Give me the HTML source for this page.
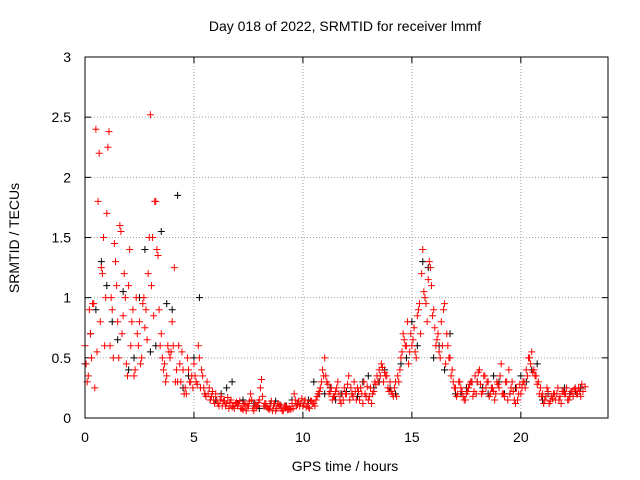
<!DOCTYPE html>
<html><head><meta charset="utf-8"><style>
body{margin:0;background:#fff}
svg{display:block;font-family:"Liberation Sans",sans-serif}
</style></head><body>
<svg id="chart" width="640" height="480">
<text x="345" y="31" font-size="14" text-anchor="middle">Day 018 of 2022, SRMTID for receiver lmmf</text>
<text x="345" y="471" font-size="14" text-anchor="middle">GPS time / hours</text>
<text x="19" y="238" font-size="14" text-anchor="middle" transform="rotate(-90 19 238)">SRMTID / TECUs</text>
<g id="grid"></g><g id="ticks"></g><g id="marks"></g>
<rect x="85" y="57" width="523" height="361" fill="none" stroke="#000"/>
</svg>
<script>
const xTicks=[0,5,10,15,20];
const yTicks=[0,0.5,1,1.5,2,2.5,3];
const yTickLabels=["0","0.5","1","1.5","2","2.5","3"];
const red1Values=[0.6,0.3,0.9,0.5,0.95,2.4,1.8,0.8,1.2,0.6,1.7,2.38,1.0,0.5,1.3,0.8,1.6,0.7,1.2,0.45,1.1,0.6,0.9,0.4,0.7,0.8,0.5,1.0,0.9,1.2,2.52,1.5,1.8,1.4,0.9,0.7,0.4,0.3,0.6,0.5,0.8,1.25,0.4,0.6,0.3,0.4,0.25,0.5,0.3,0.35,0.45,0.3,0.6,0.25,0.35,0.2,0.3,0.25,0.18,0.15,0.2,0.12,0.15,0.1,0.14,0.12,0.08,0.15,0.1,0.12,0.1,0.14,0.08,0.12,0.06,0.1,0.2,0.08,0.12,0.1,0.15,0.32,0.1,0.12,0.08,0.1,0.06,0.12,0.08,0.1,0.08,0.06,0.1,0.07,0.08,0.12,0.2,0.1,0.14,0.12,0.1,0.15,0.12,0.08,0.14,0.12,0.15,0.2,0.25,0.4,0.5,0.3,0.2,0.25,0.18,0.22,0.3,0.15,0.2,0.25,0.2,0.35,0.25,0.18,0.22,0.25,0.15,0.2,0.3,0.18,0.15,0.25,0.2,0.3,0.35,0.4,0.45,0.3,0.35,0.25,0.3,0.2,0.25,0.18,0.3,0.5,0.7,0.6,0.8,0.55,0.6,0.75,0.5,0.9,0.7,1.4,1.0,0.8,1.3,1.1,0.9,0.6,0.7,0.5,0.6,0.95,0.7,0.5,0.35,0.3,0.25,0.2,0.3,0.22,0.15,0.2,0.25,0.3,0.18,0.35,0.3,0.4,0.2,0.35,0.25,0.3,0.2,0.25,0.15,0.3,0.25,0.45,0.2,0.3,0.15,0.2,0.3,0.15,0.25,0.2,0.2,0.3,0.25,0.35,0.5,0.55,0.4,0.35,0.3,0.25,0.2,0.15,0.25,0.12,0.18,0.2,0.15,0.25,0.18,0.22,0.2,0.25,0.15,0.22,0.18,0.25,0.2,0.22,0.28];
const red2Values=[0.45,0.7,0.25,2.2,1.5,2.25,0.9,1.1,1.55,1.0,1.4,0.35,0.6,0.95,0.65,1.1,1.8,0.6,0.45,0.55,0.6,0.3,0.55,0.2,0.3,0.35,0.5,0.25,0.2,0.22,0.15,0.18,0.1,0.13,0.08,0.12,0.07,0.1,0.15,0.09,0.25,0.12,0.07,0.1,0.12,0.06,0.09,0.07,0.15,0.1,0.12,0.09,0.12,0.18,0.3,0.35,0.22,0.18,0.2,0.15,0.28,0.2,0.15,0.25,0.2,0.18,0.22,0.3,0.42,0.35,0.22,0.3,0.4,0.65,0.45,0.65,0.85,1.2,0.95,1.25,0.75,0.55,0.9,0.6,0.4,0.18,0.25,0.15,0.28,0.22,0.38,0.22,0.3,0.25,0.2,0.35,0.18,0.4,0.22,0.15,0.25,0.4,0.45,0.35,0.2,0.12,0.22,0.16,0.2,0.12,0.2,0.18,0.24,0.25,0.22];
const red3Values=[0.35,0.95,0.55,1.25,1.0,0.6,1.45,0.5,0.85,0.35,0.8,1.0,0.45,0.75,1.5,0.85,1.35,0.5,0.35,0.55,0.3,0.45,0.2,0.4,0.25,0.28,0.4,0.18,0.15,0.12,0.1,0.14,0.17,0.09,0.13,0.08,0.11,0.14,0.06,0.13,0.18,0.09,0.14,0.06,0.11,0.1,0.07,0.08,0.11,0.16,0.09,0.14,0.1,0.22,0.35,0.28,0.15,0.25,0.12,0.2,0.15,0.3,0.22,0.12,0.26,0.12,0.28,0.35,0.38,0.22,0.18,0.35,0.55,0.6,0.7,0.55,0.95,1.05,1.15,0.85,0.65,0.8,0.45,0.5,0.25,0.3,0.18,0.22,0.3,0.2,0.28,0.35,0.18,0.22,0.28,0.2,0.3,0.25,0.12,0.28,0.3,0.5,0.38,0.28,0.18,0.18,0.14,0.2,0.15,0.22,0.15,0.22,0.2,0.18,0.26];
const blackValues=[0.7,1.3,0.8,1.05,0.5,1.4,0.6,0.95,1.85,0.35,1.0,0.15,0.2,0.3,0.15,0.12,0.1,0.14,0.1,0.12,0.15,0.2,0.25,0.2,0.2,0.3,0.25,0.4,0.2,0.5,0.6,1.25,0.6,0.7,0.2,0.3,0.25,0.35,0.2,0.25,0.3,0.45,0.2,0.15,0.2,0.25];
const black2Values=[0.45,0.9,1.1,0.65,0.4,1.0,0.55,1.55,0.9,0.25,0.5,0.2,0.15,0.25,0.12,0.1,0.08,0.12,0.1,0.15,0.1,0.3,0.2,0.15,0.22,0.18,0.35,0.3,0.25,0.45,0.8,1.3,0.5,0.4,0.2,0.25,0.3,0.2,0.3,0.2,0.35,0.4,0.15,0.2,0.25,0.22];
const NS="http://www.w3.org/2000/svg";
const X=t=>85+t*(523/24), Y=v=>418-v*(361/3);
const grid=document.getElementById('grid'),ticks=document.getElementById('ticks'),marks=document.getElementById('marks');
function mk(tag,attrs,parent){const e=document.createElementNS(NS,tag);for(const k in attrs)e.setAttribute(k,attrs[k]);parent.appendChild(e);return e;}
xTicks.forEach(t=>{
 if(t>0){const g=mk('line',{x1:X(t),x2:X(t),y1:57,y2:418,stroke:'#a0a0a0','stroke-dasharray':'1,2'},grid);
 
 }
 mk('line',{x1:X(t),x2:X(t),y1:418,y2:412,stroke:'#000'},ticks);
 mk('line',{x1:X(t),x2:X(t),y1:57,y2:63,stroke:'#000'},ticks);
 const l=mk('text',{x:X(t),y:442,'font-size':14,'text-anchor':'middle'},ticks);l.textContent=t;
 
 
});
yTicks.forEach((v,i)=>{
 if(v>0&&v<3){const g=mk('line',{x1:85,x2:608,y1:Y(v),y2:Y(v),stroke:'#a0a0a0','stroke-dasharray':'1,2'},grid);
 
 }
 mk('line',{x1:85,x2:91,y1:Y(v),y2:Y(v),stroke:'#000'},ticks);
 mk('line',{x1:608,x2:602,y1:Y(v),y2:Y(v),stroke:'#000'},ticks);
 const l=mk('text',{x:71,y:Y(v)+5,'font-size':14,'text-anchor':'end'},ticks);l.textContent=yTickLabels[i];
 
 
});
function plus(t,v,c,name){const x=X(t),y=Y(v);
 const p=mk('path',{d:`M${x-3.5},${y}h7M${x},${y-3.5}v7`,stroke:c,'stroke-width':1,fill:'none'},marks);
 
 }
blackValues.forEach((v,i)=>plus(0.25+i*0.5,v,'#000','black-point'));
black2Values.forEach((v,i)=>plus(i*0.5,v,'#000','black-point'));
red1Values.forEach((v,i)=>plus(i*0.1,v,'#f00','red-point'));
red2Values.forEach((v,i)=>plus(0.05+i*0.2,v,'#f00','red-point'));
red3Values.forEach((v,i)=>plus(0.15+i*0.2,v,'#f00','red-point'));
</script>
</body></html>
